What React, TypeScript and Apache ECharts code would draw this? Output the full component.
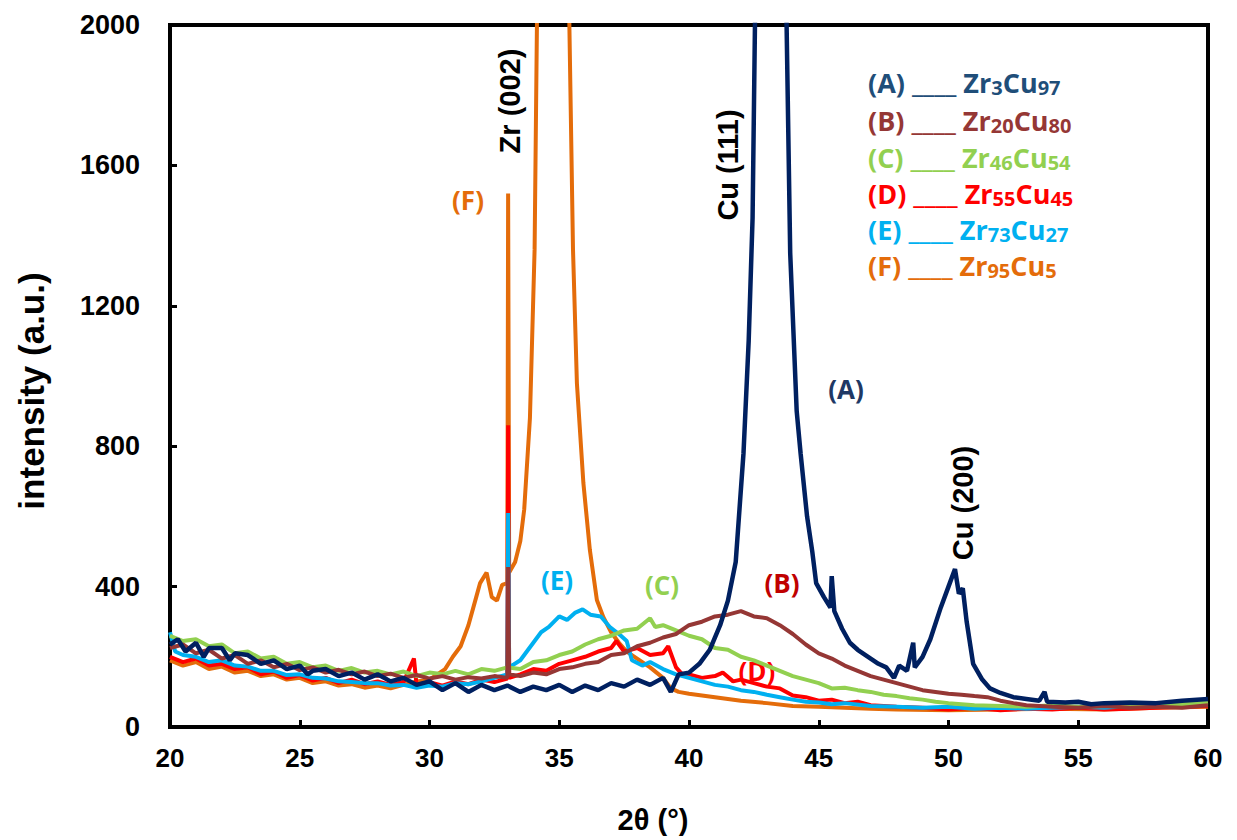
import React, { useEffect, useRef } from "react";
import * as echarts from "echarts";

// 2θ (°) vs intensity (a.u.)
const xTicks = [20, 25, 30, 35, 40, 45, 50, 55, 60];
const yTicks = [0, 400, 800, 1200, 1600, 2000];

const seriesA: [number, number][] = [
  [20, 235], [20.3, 250], [20.6, 215], [21, 240], [21.3, 200], [21.5, 225], [22, 225], [22.3, 190], [22.5, 210], [23, 205], [23.5, 180], [24, 190],
  [24.5, 165], [25, 175], [25.3, 150], [25.5, 160], [26, 165], [26.5, 145], [27, 155], [27.5, 135], [28, 150], [28.5, 130], [29, 140],
  [29.5, 120], [30, 130], [30.5, 105], [31, 125], [31.5, 100], [32, 120], [32.5, 105], [33, 118], [33.5, 100], [34, 115],
  [34.5, 105], [35, 120], [35.5, 100], [36, 118], [36.5, 105], [37, 125], [37.5, 115], [38, 135], [38.5, 120], [39, 140],
  [39.3, 100], [39.6, 150], [40, 155], [40.4, 180], [40.8, 220], [41.2, 290], [41.5, 360], [41.8, 470], [42.1, 780],
  [42.3, 1100], [42.45, 1450], [42.55, 2050], [43.1, 4500], [43.75, 2050], [43.9, 1350], [44.15, 900], [44.3, 780],
  [44.55, 600], [44.75, 500], [44.9, 410], [45.2, 370], [45.45, 340], [45.5, 430], [45.6, 330], [45.9, 280], [46.2, 240],
  [46.5, 220], [47, 195], [47.3, 180], [47.6, 170], [47.9, 140], [48.1, 175], [48.4, 160], [48.64, 240], [48.7, 170],
  [49, 200], [49.3, 250], [49.7, 340], [50, 400], [50.25, 450], [50.4, 380], [50.55, 395], [50.7, 300], [50.95, 180],
  [51.3, 135], [51.6, 110], [52, 97], [52.5, 85], [53, 80], [53.5, 75], [53.7, 100], [53.8, 72], [54.5, 70], [55, 72],
  [55.5, 65], [56, 68], [57, 70], [58, 68], [59, 75], [60, 80],
];

const seriesB: [number, number][] = [
  [20, 225], [20.5, 235], [21, 210], [21.5, 220], [22, 195], [22.5, 205], [23, 180], [23.5, 190], [24, 170], [24.5, 180],
  [25, 162], [25.5, 170], [26, 155], [26.5, 163], [27, 150], [27.5, 158], [28, 145], [28.5, 152], [29, 140], [29.5, 148],
  [30, 138], [30.5, 145], [31, 135], [31.5, 142], [32, 138], [32.5, 145], [33, 140], [33.03, 456], [33.07, 150],
  [33.5, 145], [34, 155], [34.5, 150], [35, 165], [35.5, 170], [36, 180], [36.5, 185], [37, 205], [37.5, 210], [38, 230],
  [38.5, 240], [39, 255], [39.5, 265], [40, 290], [40.5, 300], [41, 315], [41.5, 320], [42, 330], [42.5, 315], [43, 310],
  [43.5, 290], [44, 265], [44.5, 235], [45, 210], [45.5, 195], [46, 175], [46.5, 160], [47, 145], [47.5, 135], [48, 125],
  [48.5, 115], [49, 105], [49.5, 100], [50, 95], [50.5, 92], [51, 88], [51.5, 85], [52, 75], [52.5, 68], [53, 62],
  [54, 58], [55, 55], [56, 60], [57, 55], [58, 58], [59, 55], [60, 62],
];

const seriesC: [number, number][] = [
  [20, 260], [20.5, 245], [21, 250], [21.5, 230], [22, 235], [22.5, 210], [23, 215], [23.5, 195], [24, 200], [24.5, 180],
  [25, 185], [25.5, 170], [26, 175], [26.5, 160], [27, 168], [27.5, 155], [28, 160], [28.5, 150], [29, 158], [29.5, 145],
  [30, 155], [30.5, 150], [31, 160], [31.5, 150], [32, 165], [32.5, 160], [33, 170], [33.5, 165], [34, 185], [34.5, 190],
  [35, 205], [35.5, 215], [36, 235], [36.5, 250], [37, 260], [37.5, 275], [38, 280], [38.5, 310], [38.7, 285], [39, 290],
  [39.5, 275], [40, 260], [40.5, 250], [41, 225], [41.5, 220], [42, 200], [42.5, 190], [43, 175], [43.5, 160], [44, 145],
  [44.5, 135], [45, 125], [45.5, 110], [46, 112], [46.5, 105], [47, 100], [47.5, 92], [48, 88], [48.5, 82], [49, 78],
  [49.5, 72], [50, 68], [51, 62], [52, 60], [53, 58], [54, 62], [55, 58], [56, 60], [57, 62], [58, 60], [59, 65], [60, 70],
];

const seriesD: [number, number][] = [
  [20, 200], [20.5, 185], [21, 195], [21.5, 175], [22, 180], [22.5, 165], [23, 170], [23.5, 150], [24, 158], [24.5, 140],
  [25, 148], [25.5, 132], [26, 140], [26.5, 125], [27, 135], [27.5, 122], [28, 130], [28.5, 120], [29, 128], [29.4, 195],
  [29.5, 120], [30, 128], [30.5, 118], [31, 130], [31.5, 122], [32, 135], [32.5, 128], [33, 138], [33.03, 860], [33.07, 140],
  [33.5, 150], [34, 165], [34.5, 160], [35, 180], [35.5, 190], [36, 200], [36.5, 215], [37, 225], [37.2, 245], [37.5, 215],
  [38, 225], [38.5, 205], [39, 210], [39.2, 230], [39.5, 170], [39.8, 145], [40, 150], [40.5, 140], [41, 145], [41.3, 155],
  [41.7, 130], [42, 135], [42.5, 125], [43, 115], [43.5, 110], [44, 90], [44.5, 85], [45, 75], [45.5, 78], [46, 68],
  [46.5, 72], [47, 62], [48, 58], [49, 55], [50, 50], [51, 55], [52, 48], [53, 52], [54, 50], [55, 55], [56, 50], [57, 52],
  [58, 55], [59, 58], [60, 60],
];

const seriesE: [number, number][] = [
  [20, 270], [20.2, 215], [20.5, 205], [21, 200], [21.5, 185], [22, 190], [22.5, 175], [23, 172], [23.5, 160], [24, 160],
  [24.5, 148], [25, 150], [25.5, 140], [26, 138], [26.5, 130], [27, 128], [27.5, 125], [28, 125], [28.5, 118], [29, 120],
  [29.5, 112], [30, 118], [30.5, 115], [31, 125], [31.5, 122], [32, 130], [32.5, 140], [33, 150], [33.03, 610], [33.07, 170],
  [33.5, 190], [34, 240], [34.3, 270], [34.6, 285], [35, 315], [35.3, 305], [35.6, 325], [35.9, 335], [36.2, 320],
  [36.6, 315], [36.95, 285], [37.3, 265], [37.6, 245], [37.8, 190], [38.2, 175], [38.5, 185], [39, 165], [39.5, 150],
  [40, 140], [40.5, 130], [41, 120], [41.5, 115], [42, 105], [42.5, 100], [43, 92], [43.5, 85], [44, 78], [44.5, 72],
  [45, 70], [45.5, 65], [46, 68], [47, 60], [48, 58], [49, 55], [50, 58], [51, 52], [52, 55], [53, 52], [54, 55], [55, 58],
  [56, 55], [57, 60], [58, 58], [59, 62], [60, 65],
];

const seriesF: [number, number][] = [
  [20, 190], [20.5, 175], [21, 185], [21.5, 165], [22, 172], [22.5, 155], [23, 160], [23.5, 145], [24, 150], [24.5, 135],
  [25, 140], [25.5, 125], [26, 130], [26.5, 118], [27, 122], [27.5, 112], [28, 118], [28.5, 110], [29, 120], [29.5, 130],
  [30, 135], [30.3, 150], [30.6, 165], [30.9, 200], [31.2, 230], [31.5, 290], [31.8, 370], [31.95, 410], [32.2, 440],
  [32.4, 370], [32.6, 360], [32.8, 405], [33, 410], [33.03, 1520], [33.07, 440], [33.3, 470], [33.5, 530], [33.65, 620],
  [33.87, 880], [34.05, 1360], [34.14, 2000], [34.5, 4000], [34.77, 5000], [35.1, 4000], [35.39, 2000], [35.53, 1360],
  [35.68, 980], [35.93, 695], [36.18, 504], [36.45, 362], [36.7, 313], [37, 270], [37.3, 240], [37.6, 215], [38, 195],
  [38.5, 170], [39, 140], [39.3, 110], [39.6, 100], [40, 95], [40.5, 90], [41, 85], [41.5, 80], [42, 75], [43, 68],
  [44, 60], [45, 58], [46, 55], [47, 52], [48, 50], [50, 48], [52, 50], [54, 52], [56, 50], [58, 55], [60, 58],
];

const seriesNames = ["(F)", "(D)", "(E)", "(C)", "(B)", "(A)"];
const seriesColors = ["#E46C0A", "#FF0000", "#00B0F0", "#92D050", "#953735", "#002060"];
const seriesData = [seriesF, seriesD, seriesE, seriesC, seriesB, seriesA];

const legendLetters = ["(A)", "(B)", "(C)", "(D)", "(E)", "(F)"];
const legendZr = ["3", "20", "46", "55", "73", "95"];
const legendCu = ["97", "80", "54", "45", "27", "5"];
const legendColors = ["#1F4E79", "#953735", "#92D050", "#FF0000", "#00B0F0", "#E46C0A"];

const peakLabels = ["Zr (002)", "Cu (111)", "Cu (200)"];
const curveLabels = ["(F)", "(A)", "(E)", "(C)", "(B)", "(D)"];
const curveLabelColors = ["#E46C0A", "#203864", "#00B0F0", "#92D050", "#C00000", "#FF0000"];

export default function App() {
  const ref = useRef<HTMLDivElement>(null);
  useEffect(() => {
    document.body.style.margin = "0";
    if (!ref.current) return;
    const chart = echarts.init(ref.current, null, { renderer: "svg" });
    const axisFont = "Liberation Sans, Arial, sans-serif";
    const calFont = "Open Sans, sans-serif";

    const legendPos = [82, 120, 157, 193, 229, 265];
    const legendGraphics = legendLetters.map((l, i) => ({
      type: "text",
      x: 868,
      y: legendPos[i],
      style: {
        text: `{n|${l} ____ Zr}{s|${legendZr[i]}}{n|Cu}{s|${legendCu[i]}}`,
        fill: legendColors[i],
        align: "left",
        verticalAlign: "middle",
        rich: {
          n: { fontSize: 27, fontWeight: "bold", fontFamily: calFont, fill: legendColors[i], lineHeight: 30, verticalAlign: "middle" },
          s: { fontSize: 20, fontWeight: "bold", fontFamily: calFont, fill: legendColors[i], lineHeight: 14, verticalAlign: "bottom" },
        },
      },
    }));

    const peakPos = [[510, 101], [728, 165], [963, 503]];
    const peakGraphics = peakLabels.map((t, i) => ({
      type: "text",
      x: peakPos[i][0],
      y: peakPos[i][1],
      rotation: Math.PI / 2,
      style: {
        text: t,
        fontSize: 29,
        fontWeight: "bold",
        fontFamily: axisFont,
        fill: "#000",
        align: "center",
        verticalAlign: "middle",
      },
    }));

    const curvePos = [[468, 200], [846, 389], [557, 580], [662, 585], [782, 583], [757, 671]];
    const curveGraphics = curveLabels.map((t, i) => ({
      type: "text",
      x: curvePos[i][0],
      y: curvePos[i][1],
      style: {
        text: t,
        fontSize: 26,
        fontWeight: "bold",
        fontFamily: calFont,
        fill: curveLabelColors[i],
        align: "center",
        verticalAlign: "middle",
      },
    }));

    chart.setOption({
      animation: false,
      backgroundColor: "#fff",
      grid: {
        left: 170,
        right: 29,
        top: 25,
        bottom: 113,
        show: true,
        borderColor: "#000",
        borderWidth: 4,
        backgroundColor: "transparent",
      },
      xAxis: {
        type: "value",
        min: xTicks[0],
        max: xTicks[xTicks.length - 1],
        interval: 5,
        axisLine: { show: true, lineStyle: { color: "#000", width: 4 } },
        axisTick: { show: true, inside: true, length: 7, lineStyle: { color: "#000", width: 3 } },
        splitLine: { show: false },
        axisLabel: {
          margin: 18,
          fontSize: 26,
          fontWeight: "bold",
          fontFamily: axisFont,
          color: "#000",
          formatter: (v: number) => String(v),
        },
      },
      yAxis: {
        type: "value",
        min: yTicks[0],
        max: yTicks[yTicks.length - 1],
        interval: 400,
        axisLine: { show: true, lineStyle: { color: "#000", width: 4 } },
        axisTick: { show: true, inside: true, length: 7, lineStyle: { color: "#000", width: 3 } },
        splitLine: { show: false },
        axisLabel: {
          margin: 30,
          fontSize: 27,
          fontWeight: "bold",
          fontFamily: axisFont,
          color: "#000",
          formatter: (v: number) => String(v),
        },
      },
      series: seriesData.map((d, i) => ({
        type: "line",
        name: seriesNames[i],
        data: d,
        showSymbol: false,
        symbol: "none",
        clip: true,
        lineStyle: { color: seriesColors[i], width: i === 5 ? 4.5 : 4 },
        z: 2 + i,
      })),
      graphic: [
        {
          type: "text",
          x: 31,
          y: 391,
          rotation: Math.PI / 2,
          style: {
            text: "intensity (a.u.)",
            fontSize: 35,
            fontWeight: "bold",
            fontFamily: axisFont,
            fill: "#000",
            align: "center",
            verticalAlign: "middle",
          },
        },
        {
          type: "text",
          x: 653,
          y: 820,
          style: {
            text: "2θ (°)",
            fontSize: 29,
            fontWeight: "bold",
            fontFamily: axisFont,
            fill: "#000",
            align: "center",
            verticalAlign: "middle",
          },
        },
        ...legendGraphics,
        ...peakGraphics,
        ...curveGraphics,
      ],
    });
    return () => chart.dispose();
  }, []);
  return <div ref={ref} style={{ width: 1237, height: 840 }} />;
}
